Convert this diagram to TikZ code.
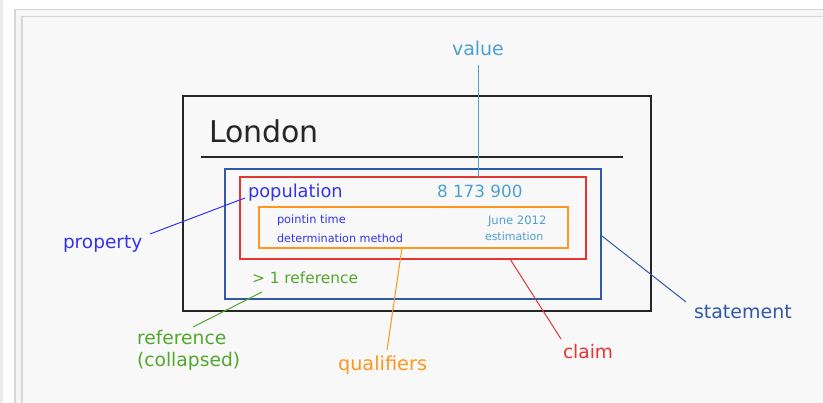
\documentclass[tikz,border=0pt]{standalone}
\usepackage{fontspec}
\setmainfont{DejaVu Sans}
\definecolor{cval}{RGB}{78,160,208}
\definecolor{cprop}{RGB}{52,52,235}
\definecolor{cstat}{RGB}{50,88,170}
\definecolor{cclaim}{RGB}{228,52,52}
\definecolor{cqual}{RGB}{255,150,30}
\definecolor{cref}{RGB}{82,168,44}
\definecolor{cbg}{RGB}{248,248,248}
\definecolor{cframe}{RGB}{214,214,214}
\newcommand{\fs}[1]{\fontsize{#1}{#1}\selectfont}
\begin{document}
\begin{tikzpicture}[x=1pt,y=-1pt,
  lbl/.style={anchor=base west,inner sep=0pt,outer sep=0pt},
  box/.style={draw,rectangle,inner sep=0pt,outer sep=0pt},
  conn/.style={line width=1pt}]
\useasboundingbox (0,0) rectangle (823,403);
\fill[white] (0,0) rectangle (823,403);
\fill[black!8] (0,0) rectangle (3,403);
\filldraw[draw=cframe,fill=black!4,line width=1.5pt] (14.75,9.75) rectangle (840,420);
\filldraw[draw=cframe,fill=cbg,line width=1.5pt] (22,16.75) rectangle (840,420);
% boxes
\node[box,line width=2.5pt,black!85,minimum width=468pt,minimum height=215pt] (city) at (417,203.5) {};
\node[box,line width=1.5pt,cstat,minimum width=376pt,minimum height=130pt] (stmt) at (413,234) {};
\node[box,line width=2pt,cclaim,minimum width=346pt,minimum height=82pt] (clm) at (413,218) {};
\node[box,line width=2pt,cqual,minimum width=309pt,minimum height=41pt] (qual) at (413.5,227.5) {};
\draw[line width=2pt,black!85] (201,157.5) coordinate (ul1) -- (623,157.5) coordinate (ul2);
% texts
\node[lbl,black!85] (london) at (209,143) {\fs{30}London};
\node[lbl,cprop] (pop) at (248,198) {\fs{17.8}population};
\node[lbl,cval] (num) at (437,198) {\fs{16.8}8 173 900};
\node[lbl,cprop] (pit) at (277,224) {\fs{11.4}pointin time};
\node[lbl,cprop] (dm) at (277,243) {\fs{11.2}determination method};
\node[lbl,cval] (jun) at (488,225) {\fs{11.6}June 2012};
\node[lbl,cval] (est) at (485,241) {\fs{11}estimation};
\node[lbl,cref] (ref1) at (252,284) {\fs{15.4}> 1 reference};
\node[lbl,cval] (value) at (452,56) {\fs{19}value};
\node[lbl,cprop] (property) at (63,249) {\fs{18.5}property};
\node[lbl,cstat] (statement) at (694,319) {\fs{19}statement};
\node[lbl,cclaim] (claim) at (563,359) {\fs{18.6}claim};
\node[lbl,cqual] (qualifiers) at (338,371) {\fs{19.3}qualifiers};
\node[lbl,cref] (refc1) at (137,345) {\fs{18.7}reference};
\node[lbl,cref] (refc2) at (137,367) {\fs{18.7}(collapsed)};
% connector ends
\coordinate (v1) at (478,65);
\coordinate (v2) at (478,177);
\coordinate (p1) at (150,234);
\coordinate (p2) at (245,198);
\coordinate (s1) at (602,236);
\coordinate (s2) at (686,302);
\coordinate (c1) at (510,259);
\coordinate (c2) at (561,339);
\coordinate (q1) at (402,248);
\coordinate (q2) at (387,350);
\coordinate (r1) at (193,327);
\coordinate (r2) at (262,292);
\draw[conn,cval] (v1) -- (v2);
\draw[conn,cprop] (p1) -- (p2);
\draw[conn,cstat] (s1) -- (s2);
\draw[conn,cclaim] (c1) -- (c2);
\draw[conn,cqual] (q1) -- (q2);
\draw[conn,cref] (r1) -- (r2);
\end{tikzpicture}
\end{document}
